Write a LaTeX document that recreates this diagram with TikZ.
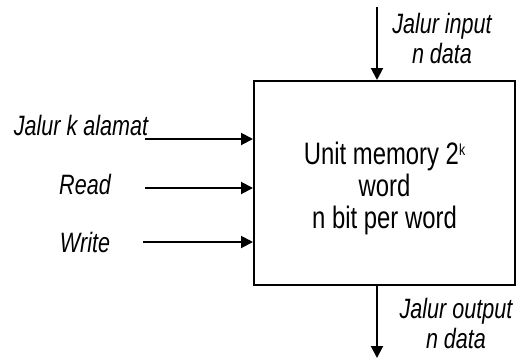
\documentclass[tikz,border=0pt]{standalone}
\usepackage{fontspec}
\setmainfont{Liberation Sans}[FakeStretch=0.77]
\usetikzlibrary{arrows.meta}
\newcommand{\supk}{\raisebox{9pt}{\fontsize{16}{16}\selectfont k}}
\tikzset{
  memblock/.style={draw, line width=2pt, minimum width=261pt, minimum height=204pt},
  memtext/.style={font=\fontsize{31}{32}\selectfont, align=center},
  siglabel/.style={font=\fontsize{28}{30}\selectfont\itshape, align=center},
  sigline/.style={line width=2pt, -{Triangle[length=12pt,width=12pt]}}
}
\begin{document}
\begin{tikzpicture}[x=1pt, y=-1pt]
    \useasboundingbox (0,0) rectangle (517,360);
    % memory block
    \node [memblock] (mem) at (384.5,183) {};
    \node [memtext] (memlbl) at (384.5,188) {Unit memory 2\supk\\word\\n bit per word};
    % signal labels
    \node [siglabel] (addrlbl) at (81,125) {Jalur k alamat};
    \node [siglabel] (readlbl) at (85,184) {Read};
    \node [siglabel] (writelbl) at (85,242) {Write};
    \node [siglabel] (inlbl) at (442,38) {Jalur input\\n data};
    \node [siglabel] (outlbl) at (456,323) {Jalur output\\n data};
    % line ends
    \coordinate (addrin) at (145,139);
    \coordinate (readin) at (145,188);
    \coordinate (writein) at (143,242);
    \coordinate (datain) at (377,7);
    \coordinate (dataout) at (377,358);
    % connectors
    \draw [sigline] (addrin) -- (addrin -| mem.west);
    \draw [sigline] (readin) -- (readin -| mem.west);
    \draw [sigline] (writein) -- (writein -| mem.west);
    \draw [sigline] (datain) -- (datain |- mem.north);
    \draw [sigline] (mem.south -| dataout) -- (dataout);
\end{tikzpicture}
\end{document}
